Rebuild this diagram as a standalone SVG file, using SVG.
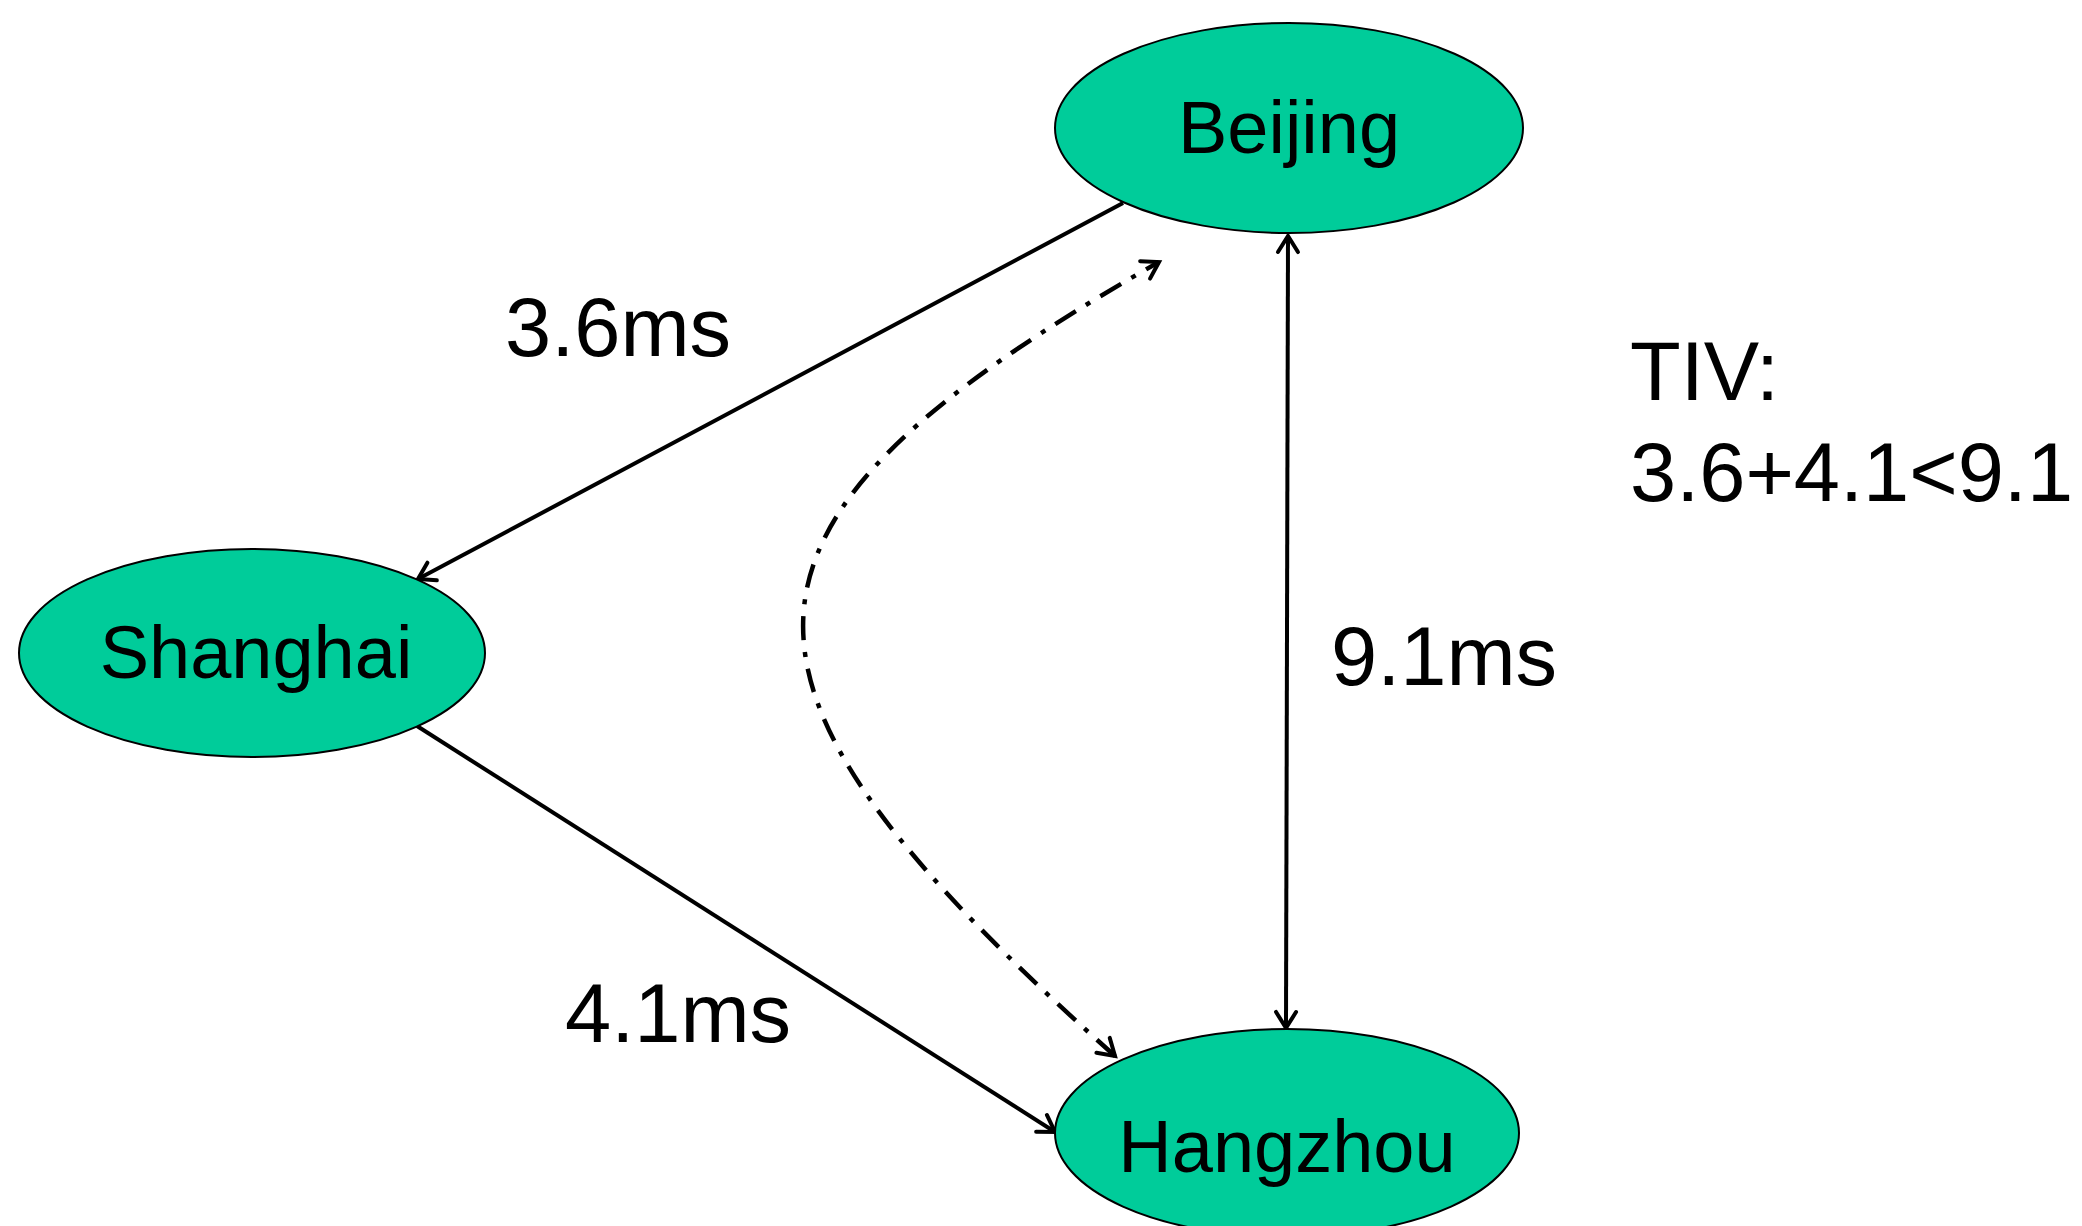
<svg xmlns="http://www.w3.org/2000/svg" width="2082" height="1226" viewBox="0 0 2082 1226">
  <style>
    .node { fill: #00CC9A; stroke: #000; stroke-width: 2; }
    .nlabel { font-family: "Liberation Sans", Arial, sans-serif; font-size: 74px; fill: #000; text-anchor: middle; }
    .elabel { font-family: "Liberation Sans", Arial, sans-serif; font-size: 83px; fill: #000; }
    .edge { fill: none; stroke: #000; stroke-width: 4; }
    .dashdot { stroke-width: 4.5; stroke-dasharray: 24 12 5 12; }
  </style>
  <defs>
    <marker id="open-arrow" markerUnits="userSpaceOnUse" markerWidth="32" markerHeight="32" viewBox="-22 -16 26 32" refX="0" refY="0" orient="auto-start-reverse">
      <path d="M -16 -10 L 0 0 L -16 10" fill="none" stroke="#000" stroke-width="4" stroke-linecap="round" stroke-linejoin="miter"/>
    </marker>
  </defs>

  <g id="connectors">
    <!-- Beijing to Shanghai -->
    <line class="edge" x1="1123" y1="203" x2="418" y2="579" marker-end="url(#open-arrow)"/>
    <!-- Shanghai to Hangzhou -->
    <line class="edge" x1="417" y1="726" x2="1055" y2="1132" marker-end="url(#open-arrow)"/>
    <!-- Beijing <-> Hangzhou direct path -->
    <line class="edge" x1="1288" y1="236" x2="1286" y2="1028" marker-start="url(#open-arrow)" marker-end="url(#open-arrow)"/>
    <!-- detour via Shanghai, dash-dot curve -->
    <path class="edge dashdot" d="M 1115 1056 C 695 681, 689 529, 1159 262" marker-start="url(#open-arrow)" marker-end="url(#open-arrow)"/>
  </g>

  <g id="node-beijing">
    <ellipse class="node" cx="1289" cy="128" rx="234" ry="105"/>
    <text class="nlabel" x="1289" y="153">Beijing</text>
  </g>

  <g id="node-shanghai">
    <ellipse class="node" cx="252" cy="653" rx="233" ry="104"/>
    <text class="nlabel" x="256" y="678">Shanghai</text>
  </g>

  <g id="node-hangzhou">
    <ellipse class="node" cx="1287" cy="1133" rx="232" ry="104"/>
    <text class="nlabel" x="1287" y="1172">Hangzhou</text>
  </g>

  <g id="edge-labels">
    <text class="elabel" x="505" y="356">3.6ms</text>
    <text class="elabel" x="1331" y="685">9.1ms</text>
    <text class="elabel" x="565" y="1042">4.1ms</text>
  </g>

  <g id="note">
    <text class="elabel" x="1630" y="400">TIV:</text>
    <text class="elabel" x="1630" y="501">3.6+4.1&lt;9.1</text>
  </g>
</svg>
